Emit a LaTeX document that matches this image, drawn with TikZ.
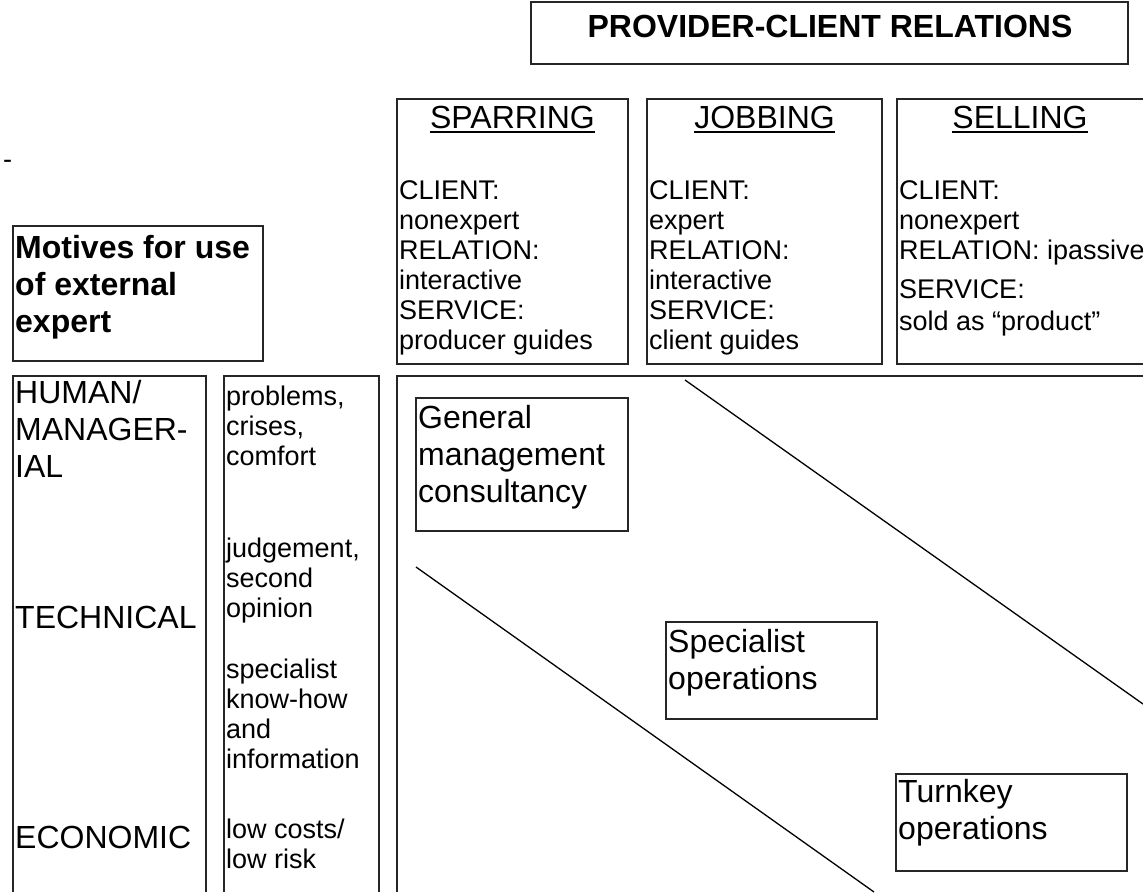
\documentclass[tikz,border=0pt]{standalone}
\usepackage{fontspec}
\setmainfont{Liberation Sans}
\newcommand\smallf{\fontsize{27}{30}\selectfont\lineskiplimit=-100pt\relax}
\newcommand\largef{\fontsize{32}{37}\selectfont\lineskiplimit=-100pt\relax}
\newcommand\sstrut{\rule{0pt}{24pt}}
\newcommand\lstrut{\rule{0pt}{29pt}}
\begin{document}
\begin{tikzpicture}[x=1pt,y=-1pt,
  box/.style={draw=black!85,line width=1.6pt},
  diag/.style={draw=black,line width=1.3pt},
  stxt/.style={anchor=north west,inner sep=0pt,align=left,font=\smallf},
  ltxt/.style={anchor=north west,inner sep=0pt,align=left,font=\largef},
  btxt/.style={anchor=north west,inner sep=0pt,align=left,font=\largef\bfseries},
  head/.style={anchor=base,inner sep=0pt,font=\largef},
  uline/.style={draw=black,line width=2pt}]
\useasboundingbox (0,0) rectangle (1143,892);

% ---------- boxes ----------
\draw[box] (531,2) rectangle (1128,64);
\draw[box] (397,99) rectangle (628,364);
\draw[box] (647,99) rectangle (882,364);
\draw[box] (1143,99) -| (897,364) -- (1143,364);
\draw[box] (13,226) rectangle (263,361);
\draw[box] (13,892) |- (206,376) -- (206,892);
\draw[box] (224,892) |- (379,376) -- (379,892);
\draw[box] (397,892) |- (1143,376);
\draw[box] (416,398) rectangle (628,531);
\draw[box] (666,622) rectangle (877,719);
\draw[box] (896,774) rectangle (1127,871);

% ---------- diagonals ----------
\coordinate (d1a) at (685,380);
\coordinate (d1b) at (1143,704);
\coordinate (d2a) at (416,567);
\coordinate (d2b) at (874,892);
\draw[diag] (d1a) -- (d1b);
\draw[diag] (d2a) -- (d2b);

% ---------- texts ----------
\node[font=\largef\bfseries,anchor=base,inner sep=0pt] (title) at (830,37) {PROVIDER-CLIENT RELATIONS};

\node[head] (hsp) at (512.5,128) {SPARRING};
\node[head] (hjo) at (764.5,128) {JOBBING};
\node[head] (hse) at (1020,128) {SELLING};
\draw[uline] ([yshift=-3.5pt]hsp.base west) -- ([yshift=-3.5pt]hsp.base east);
\draw[uline] ([yshift=-3.5pt]hjo.base west) -- ([yshift=-3.5pt]hjo.base east);
\draw[uline] ([yshift=-3.5pt]hse.base west) -- ([yshift=-3.5pt]hse.base east);

\node[stxt] (tsp) at (399,175) {\sstrut CLIENT:\\nonexpert\\RELATION:\\interactive\\SERVICE:\\producer guides};
\node[stxt] (tjo) at (649,175) {\sstrut CLIENT:\\expert\\RELATION:\\interactive\\SERVICE:\\client guides};
\node[stxt] (tse1) at (899,175) {\sstrut CLIENT:\\nonexpert\\RELATION: ipassive};
\node[stxt] (tse2) at (899,274) {\sstrut SERVICE:\\[2pt]sold as “product”};

\node[stxt] (dash) at (3,144) {\sstrut -};

\node[btxt] (motives) at (15,229) {\lstrut Motives for use\\of external\\expert};

\node[ltxt] (human) at (15,374) {\lstrut HUMAN/\\MANAGER-\\IAL};
\node[ltxt] (technical) at (15,599) {\lstrut TECHNICAL};
\node[ltxt] (economic) at (15,819) {\lstrut ECONOMIC};

\node[stxt] (m1) at (226,381) {\sstrut problems,\\crises,\\comfort};
\node[stxt] (m2) at (226,533) {\sstrut judgement,\\second\\opinion};
\node[stxt] (m3) at (226,654) {\sstrut specialist\\know-how\\and\\information};
\node[stxt] (m4) at (226,814) {\sstrut low costs/\\low risk};

\node[ltxt] (general) at (418,399) {\lstrut General\\management\\consultancy};
\node[ltxt] (specialist) at (668,623) {\lstrut Specialist\\operations};
\node[ltxt] (turnkey) at (898,773) {\lstrut Turnkey\\operations};
\end{tikzpicture}
\end{document}
